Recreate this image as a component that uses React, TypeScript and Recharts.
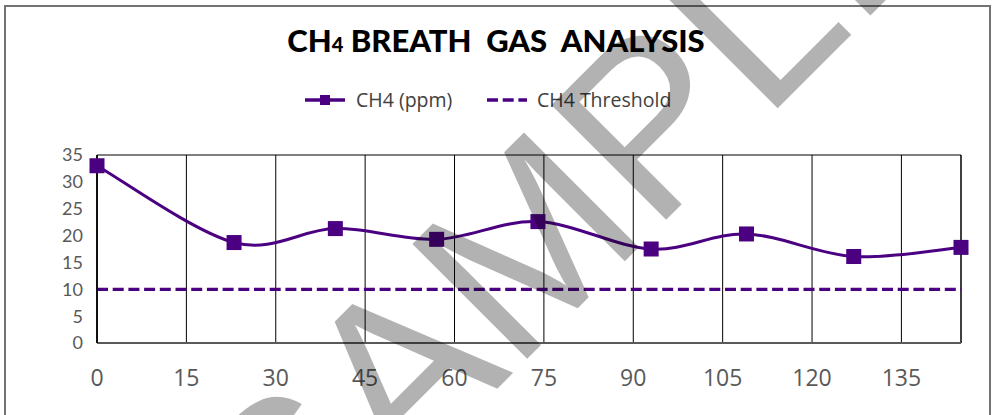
import { CartesianGrid, Line, LineChart, ReferenceArea, XAxis, YAxis } from "recharts";

// minutes since start, methane reading (ppm)
const TIMES = [0, 23, 40, 57, 74, 93, 109, 127, 145];
const CH4_PPM = [33, 18.7, 21.3, 19.3, 22.6, 17.5, 20.3, 16.1, 17.8];
const THRESHOLD = 10;

const X_TICKS = [0, 15, 30, 45, 60, 75, 90, 105, 120, 135];
const Y_TICKS = [0, 5, 10, 15, 20, 25, 30, 35];

const PURPLE = "#4b0082";
const TICK_GREY = "#595959";

const data = TIMES.map((t, i) => ({ t, ch4: CH4_PPM[i], threshold: THRESHOLD }));

// Excel-like smoothed line (Catmull-Rom through every point)
const smoothCurve = (context: any) => {
  let pts: number[][] = [];
  return {
    areaStart() {},
    areaEnd() {},
    lineStart() {
      pts = [];
    },
    point(x: number, y: number) {
      pts.push([+x, +y]);
    },
    lineEnd() {
      if (!pts.length) return;
      context.moveTo(pts[0][0], pts[0][1]);
      for (let i = 0; i < pts.length - 1; i++) {
        const p0 = pts[i - 1] || pts[i];
        const p1 = pts[i];
        const p2 = pts[i + 1];
        const p3 = pts[i + 2] || p2;
        context.bezierCurveTo(
          p1[0] + (p2[0] - p0[0]) / 6,
          p1[1] + (p2[1] - p0[1]) / 6,
          p2[0] - (p3[0] - p1[0]) / 6,
          p2[1] - (p3[1] - p1[1]) / 6,
          p2[0],
          p2[1]
        );
      }
    },
  };
};

const SquareDot = (props: any) => {
  const { cx, cy } = props;
  if (cx == null || cy == null) return null;
  return <rect x={cx - 7.5} y={cy - 7.5} width={15} height={15} fill={PURPLE} />;
};

export default function App() {
  return (
    <div style={{ position: "absolute", left: 0, top: 0, width: 992, height: 415, background: "#fff", overflow: "hidden" }}>
      <div
        style={{
          position: "absolute",
          left: 4,
          top: 5,
          width: 987,
          height: 430,
          border: "2px solid #737373",
          boxSizing: "border-box",
        }}
      />
      <div style={{ position: "absolute", left: 0, top: 0 }}>
        <LineChart width={992} height={415} data={data} margin={{ top: 155, right: 31, left: 37, bottom: 27 }}>
          <CartesianGrid horizontal={false} stroke="#000" strokeWidth={1} />
          <ReferenceArea x1={0} x2={145} y1={0} y2={35} fill="none" stroke="#000" strokeWidth={1} />
          <XAxis
            dataKey="t"
            type="number"
            domain={[0, 145]}
            ticks={X_TICKS}
            height={45}
            tickSize={0}
            tickMargin={27}
            axisLine={{ stroke: TICK_GREY, strokeWidth: 2 }}
            tick={{ fill: TICK_GREY, fontSize: 23, fontFamily: "'Open Sans', sans-serif" }}
          />
          <YAxis
            type="number"
            domain={[0, 35]}
            ticks={Y_TICKS}
            width={60}
            tickSize={0}
            tickMargin={14}
            axisLine={{ stroke: "#000", strokeWidth: 1.5 }}
            tick={{ fill: TICK_GREY, fontSize: 18, fontFamily: "Lato, sans-serif" }}
          />
          <Line
            dataKey="threshold"
            stroke={PURPLE}
            strokeWidth={3.3}
            strokeDasharray="11 4.7"
            dot={false}
            activeDot={false}
            isAnimationActive={false}
          />
          <Line
            dataKey="ch4"
            type={smoothCurve as any}
            stroke={PURPLE}
            strokeWidth={3}
            dot={<SquareDot />}
            activeDot={false}
            isAnimationActive={false}
          />
        </LineChart>
      </div>
      <svg width={992} height={415} style={{ position: "absolute", left: 0, top: 0, pointerEvents: "none" }}>
        <text
          x={496}
          y={52}
          textAnchor="middle"
          fontFamily="Lato, sans-serif"
          fontWeight={900}
          fontSize={31}
          fill="#000"
          style={{ whiteSpace: "pre" }}
        >
          CH<tspan fontSize={20}>4</tspan> BREATH  GAS  ANALYSIS
        </text>
        <line x1={305} x2={345} y1={100} y2={100} stroke={PURPLE} strokeWidth={3.3} />
        <rect x={320} y={95} width={10} height={10} fill={PURPLE} />
        <text x={356} y={107} fontFamily="'Open Sans', sans-serif" fontSize={19.5} fill="#404040">
          CH4 (ppm)
        </text>
        <line x1={487} x2={527} y1={100} y2={100} stroke={PURPLE} strokeWidth={3.3} strokeDasharray="11 4.7" />
        <text x={537} y={107} fontFamily="'Open Sans', sans-serif" fontSize={19.5} fill="#404040">
          CH4 Threshold
        </text>
        {/* watermark */}
        <text
          x={291}
          y={595}
          transform="rotate(-45 291 595)"
          fontFamily="'Liberation Sans', Arial, sans-serif"
          fontSize={236}
          fill="#000"
          fillOpacity={0.3}
        >
          SAMPLE
        </text>
      </svg>
    </div>
  );
}
